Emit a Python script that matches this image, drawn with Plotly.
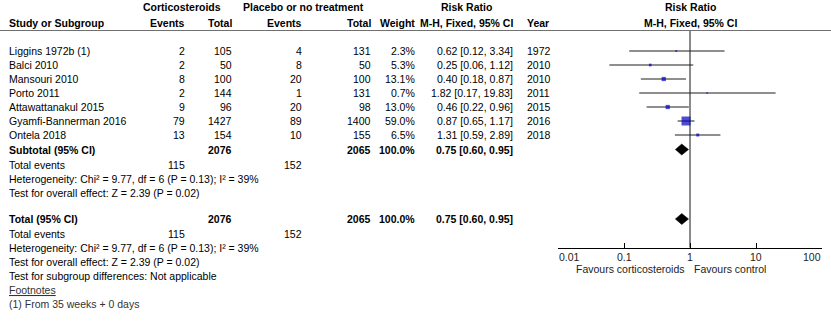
import numpy as np
import plotly.graph_objects as go

W, H = 831, 325

# ---------------- data ----------------
studies = ["Liggins 1972b (1)", "Balci 2010", "Mansouri 2010", "Porto 2011",
           "Attawattanakul 2015", "Gyamfi-Bannerman 2016", "Ontela 2018"]
cs_events = [2, 2, 8, 2, 9, 79, 13]
cs_total = [105, 50, 100, 144, 96, 1427, 154]
pl_events = [4, 8, 20, 1, 20, 89, 10]
pl_total = [131, 50, 100, 131, 98, 1400, 155]
weights = [2.3, 5.3, 13.1, 0.7, 13.0, 59.0, 6.5]
rr = [0.62, 0.25, 0.40, 1.82, 0.46, 0.87, 1.31]
rr_lo = [0.12, 0.06, 0.18, 0.17, 0.22, 0.65, 0.59]
rr_hi = [3.34, 1.12, 0.87, 19.83, 0.96, 1.17, 2.89]
years = [1972, 2010, 2010, 2011, 2015, 2016, 2018]

pooled_rr, pooled_lo, pooled_hi = 0.75, 0.60, 0.95
sum_cs_total, sum_pl_total = 2076, 2065
sum_cs_events, sum_pl_events = 115, 152
total_weight = 100.0

het_text = "Heterogeneity: Chi² = 9.77, df = 6 (P = 0.13); I² = 39%"
overall_text = "Test for overall effect: Z = 2.39 (P = 0.02)"
subgroup_text = "Test for subgroup differences: Not applicable"
footnote_text = "(1) From 35 weeks + 0 days"

tick_vals = [0.01, 0.1, 1, 10, 100]
tick_text = ["0.01", "0.1", "1", "10", "100"]
NULL_RR = 1
left_label = "Favours corticosteroids"
right_label = "Favours control"

# ---------------- layout positions (pixels) ----------------
ROW0, ROWSP = 51, 14
study_y = [ROW0 + ROWSP * i for i in range(len(studies))]
y_sub = ROW0 + ROWSP * 7 + 0.5
y_sub_ev, y_sub_het, y_sub_test = 165, 179, 193
y_tot = 219
y_tot_ev, y_tot_het, y_tot_test, y_subgrp, y_foot, y_fn1 = 234, 248, 262, 276, 290, 304
y_h1, y_h2, y_rule = 7, 22.5, 30.5
y_axis = 247.5
y_ticklab, y_fav = 257, 269

X_STUDY = 8
X_CS_EV, X_CS_TOT, X_PL_EV, X_PL_TOT, X_WT, X_CI, X_YEAR = 186, 233, 303, 372, 416, 514, 526
X_AX0, X_AX1 = 558, 822

FONT = "Arial, Liberation Sans, sans-serif"
FS = 10.5
annos = []


def txt(x, y, s, anchor="left", bold=False, xref="paper", color="#000000", xshift=0):
    if bold:
        s = "<b>" + s + "</b>"
    annos.append(dict(x=(x / W if xref == "paper" else x), y=y, xref=xref, yref="y",
                      text=s, showarrow=False, xanchor=anchor, yanchor="middle",
                      xshift=xshift, borderpad=0,
                      font=dict(family=FONT, size=FS, color=color)))


# headers
txt(182, y_h1, "Corticosteroids", "center", True)
txt(303, y_h1, "Placebo or no treatment", "center", True)
txt(466, y_h1, "Risk Ratio", "center", True)
txt(0, y_h1, "Risk Ratio", "center", True, xref="x")
txt(X_STUDY, y_h2, "Study or Subgroup", "left", True)
txt(X_CS_EV, y_h2, "Events", "right", True)
txt(X_CS_TOT, y_h2, "Total", "right", True)
txt(X_PL_EV, y_h2, "Events", "right", True)
txt(X_PL_TOT, y_h2, "Total", "right", True)
txt(X_WT, y_h2, "Weight", "right", True)
txt(X_CI, y_h2, "M-H, Fixed, 95% CI", "right", True)
txt(X_YEAR, y_h2, "Year", "left", True)
txt(0, y_h2, "M-H, Fixed, 95% CI", "center", True, xref="x")

# study rows
for i, name in enumerate(studies):
    y = study_y[i]
    txt(X_STUDY, y, name)
    txt(X_CS_EV, y, str(cs_events[i]), "right")
    txt(X_CS_TOT, y, str(cs_total[i]), "right")
    txt(X_PL_EV, y, str(pl_events[i]), "right")
    txt(X_PL_TOT, y, str(pl_total[i]), "right")
    txt(X_WT, y, f"{weights[i]:.1f}%", "right")
    txt(X_CI, y, f"{rr[i]:.2f} [{rr_lo[i]:.2f}, {rr_hi[i]:.2f}]", "right")
    txt(X_YEAR, y, str(years[i]))

ci_pooled = f"{pooled_rr:.2f} [{pooled_lo:.2f}, {pooled_hi:.2f}]"
for (ys, label, ye, yh, yt) in [(y_sub, "Subtotal (95% CI)", y_sub_ev, y_sub_het, y_sub_test),
                                (y_tot, "Total (95% CI)", y_tot_ev, y_tot_het, y_tot_test)]:
    txt(X_STUDY, ys, label, "left", True)
    txt(X_CS_TOT, ys, str(sum_cs_total), "right", True)
    txt(X_PL_TOT, ys, str(sum_pl_total), "right", True)
    txt(X_WT, ys, f"{total_weight:.1f}%", "right", True)
    txt(X_CI, ys, ci_pooled, "right", True)
    txt(X_STUDY, ye, "Total events")
    txt(X_CS_EV, ye, str(sum_cs_events), "right")
    txt(X_PL_EV, ye, str(sum_pl_events), "right")
    txt(X_STUDY, yh, het_text)
    txt(X_STUDY, yt, overall_text)

txt(X_STUDY, y_subgrp, subgroup_text)
txt(X_STUDY, y_foot, '<span style="text-decoration:underline">Footnotes</span>', color="#333333")
txt(X_STUDY, y_fn1, footnote_text, color="#333333")

# axis tick labels
for j, (tv, tt) in enumerate(zip(tick_vals, tick_text)):
    anc = "left" if j == 0 else ("right" if j == len(tick_vals) - 1 else "center")
    txt(np.log10(tv), y_ticklab, tt, anc, xref="x", color="#222222")
txt(np.log10(NULL_RR), y_fav, left_label, "right", xref="x", color="#222222", xshift=-4)
txt(np.log10(NULL_RR), y_fav, right_label, "left", xref="x", color="#222222", xshift=3)

# ---------------- traces ----------------
fig = go.Figure()

# null line
fig.add_trace(go.Scatter(x=[NULL_RR, NULL_RR], y=[y_rule, y_axis], mode="lines",
                         line=dict(color="#8a8a8a", width=2), hoverinfo="skip", showlegend=False))

# CI lines
cx, cy = [], []
for i in range(len(studies)):
    cx += [rr_lo[i], rr_hi[i], None]
    cy += [study_y[i], study_y[i], None]
fig.add_trace(go.Scatter(x=cx, y=cy, mode="lines", line=dict(color="#1e1e1e", width=1),
                         hoverinfo="skip", showlegend=False, cliponaxis=False))

# squares
sizes = [max(1.6, 1.17 * np.sqrt(w)) for w in weights]
fig.add_trace(go.Scatter(x=rr, y=study_y, mode="markers",
                         marker=dict(symbol="square", size=sizes, color="#0000c0",
                                     line=dict(width=0)),
                         showlegend=False, cliponaxis=False))

# diamonds
for yd in [y_sub, y_tot]:
    fig.add_trace(go.Scatter(x=[pooled_lo, pooled_rr, pooled_hi, pooled_rr, pooled_lo],
                             y=[yd, yd - 5.5, yd, yd + 5.5, yd], mode="lines", fill="toself",
                             fillcolor="#000000", line=dict(color="#000000", width=0.5),
                             showlegend=False, hoverinfo="skip"))

fig.update_layout(
    width=W, height=H, margin=dict(l=0, r=0, t=0, b=0),
    paper_bgcolor="white", plot_bgcolor="white",
    font=dict(family=FONT, size=FS, color="#000000"),
    xaxis=dict(type="log", domain=[X_AX0 / W, X_AX1 / W], range=[-2, 2],
               anchor="free", position=1 - y_axis / H,
               showline=True, linecolor="#000000", linewidth=1,
               ticks="inside", ticklen=5, tickcolor="#000000", tickwidth=1,
               tickvals=tick_vals, showticklabels=False, showgrid=False, zeroline=False),
    yaxis=dict(range=[H, 0], domain=[0, 1], visible=False, showgrid=False, zeroline=False),
    annotations=annos,
    shapes=[dict(type="line", xref="paper", yref="y", x0=0, x1=1, y0=y_rule, y1=y_rule,
                 line=dict(color="#707070", width=1))],
    showlegend=False,
)

fig.write_html("out.html")
